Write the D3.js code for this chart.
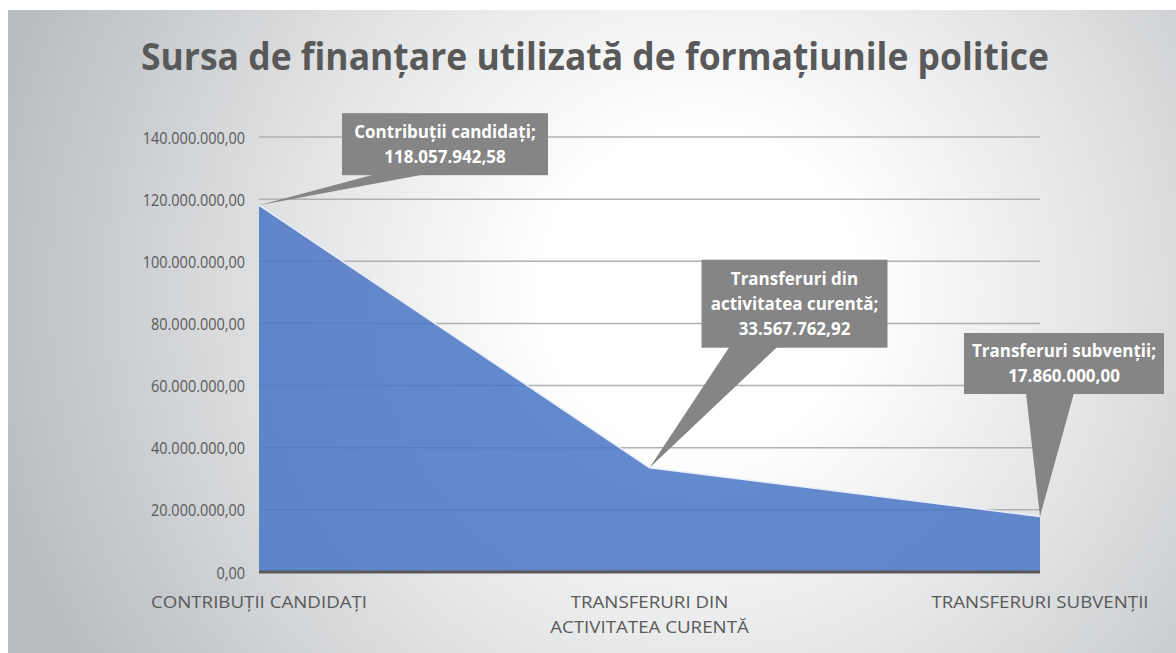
<!DOCTYPE html>
<html>
<head>
<meta charset="utf-8">
<script src="https://cdn.jsdelivr.net/npm/d3@7"></script>
<style>
  body { margin: 0; background: #fff; }
  text { font-family: 'Open Sans', sans-serif; }
</style>
</head>
<body>
<svg id="chart" width="1176" height="653"></svg>
<script>
const categories = ['CONTRIBUȚII CANDIDAȚI', 'TRANSFERURI DIN ACTIVITATEA CURENTĂ', 'TRANSFERURI SUBVENȚII'];
const categoryLines = [['CONTRIBUȚII CANDIDAȚI'], ['TRANSFERURI DIN', 'ACTIVITATEA CURENTĂ'], ['TRANSFERURI SUBVENȚII']];
const values = [118057942.58, 33567762.92, 17860000.00];
const calloutNames = [['Contribuții candidați;'], ['Transferuri din', 'activitatea curentă;'], ['Transferuri subvenții;']];
const yTicks = [0, 20000000, 40000000, 60000000, 80000000, 100000000, 120000000, 140000000];
const title = 'Sursa de finanțare utilizată de formațiunile politice';

const ro = d3.formatLocale({ decimal: ',', thousands: '.', grouping: [3], currency: ['', ' lei'] });
const fmt = ro.format(',.2f');

// squeeze/stretch text horizontally to mimic the Calibri look
const fit = (sel, k) => sel.each(function () {
  const w = this.getComputedTextLength();
  d3.select(this).attr('textLength', w * k).attr('lengthAdjust', 'spacingAndGlyphs');
});

const svg = d3.select('#chart');
const defs = svg.append('defs');

const bg = defs.append('radialGradient')
  .attr('id', 'bg')
  .attr('gradientUnits', 'userSpaceOnUse')
  .attr('cx', 700).attr('cy', 290).attr('r', 720);
bg.append('stop').attr('offset', '0%').attr('stop-color', '#ffffff');
bg.append('stop').attr('offset', '22%').attr('stop-color', '#ffffff');
bg.append('stop').attr('offset', '55%').attr('stop-color', '#e4e5e6');
bg.append('stop').attr('offset', '100%').attr('stop-color', '#b9bdc1');

svg.append('rect')
  .attr('x', 8).attr('y', 10)
  .attr('width', 1168).attr('height', 643)
  .attr('fill', 'url(#bg)');

const x = d3.scalePoint().domain(categories).range([259, 1040]);
const y = d3.scaleLinear().domain([0, 140000000]).range([572, 137]);

// gridlines
svg.append('g')
  .selectAll('line')
  .data(yTicks.slice(1))
  .join('line')
    .attr('x1', x.range()[0]).attr('x2', x.range()[1])
    .attr('y1', d => y(d)).attr('y2', d => y(d))
    .attr('stroke', '#b0b0b0')
    .attr('stroke-width', 1.5);

// y labels
const yAxis = d3.axisLeft(y).tickValues(yTicks).tickFormat(fmt).tickSize(0).tickPadding(14);
svg.append('g')
  .attr('transform', `translate(${x.range()[0]},0)`)
  .call(yAxis)
  .call(g => g.select('.domain').remove())
  .call(g => g.selectAll('text')
    .attr('fill', '#595959')
    .attr('dy', '0.36em')
    .style('font-family', "'Open Sans', sans-serif")
    .style('font-size', '17px')
    .call(fit, 0.85));

// area
const data = categories.map((c, i) => ({ c, v: values[i] }));
const area = d3.area()
  .x(d => x(d.c))
  .y0(y(0))
  .y1(d => y(d.v));
const line = d3.line().x(d => x(d.c)).y(d => y(d.v));

svg.append('path')
  .attr('d', area(data))
  .attr('fill', '#4a74c4')
  .attr('fill-opacity', 0.85);

svg.append('path')
  .attr('d', line(data))
  .attr('fill', 'none')
  .attr('stroke', '#e8eefa')
  .attr('stroke-width', 1.5);

// baseline
svg.append('line')
  .attr('x1', x.range()[0]).attr('x2', x.range()[1])
  .attr('y1', y(0)).attr('y2', y(0))
  .attr('stroke', '#5a5a5a')
  .attr('stroke-width', 3);

// category labels
const xl = svg.append('g')
  .selectAll('text')
  .data(categories)
  .join('text')
    .attr('x', d => x(d))
    .attr('y', 608)
    .attr('text-anchor', 'middle')
    .attr('fill', '#595959')
    .style('font-size', '17px');
xl.each(function (d, i) {
  d3.select(this).selectAll('tspan')
    .data(categoryLines[i])
    .join('tspan')
      .attr('x', x(d))
      .attr('y', (t, j) => 608 + j * 25)
      .text(t => t)
      .call(fit, 1.1);
});

// callouts: box offsets from the data point
const callouts = [
  { dx: 186, dy: -61, w: 206, h: 62, tip: [-70, -20] },
  { dx: 145, dy: -164, w: 186, h: 88, tip: [-65, -17] },
  { dx: 24, dy: -153, w: 200, h: 61, tip: [-38, 10] }
];

const cg = svg.append('g');
data.forEach((d, i) => {
  const px = x(d.c), py = y(d.v);
  const c = callouts[i];
  const cx = px + c.dx, cy = py + c.dy;
  const bx = cx - c.w / 2, by = cy - c.h / 2;
  const bottom = by + c.h;
  cg.append('path')
    .attr('d', `M${cx + c.tip[0]},${bottom - 1} L${px},${py} L${cx + c.tip[1]},${bottom - 1}Z`)
    .attr('fill', '#858585');
  cg.append('rect')
    .attr('x', bx).attr('y', by)
    .attr('width', c.w).attr('height', c.h)
    .attr('fill', '#858585');
  const lines = calloutNames[i].concat([fmt(d.v)]);
  const t = cg.append('text')
    .attr('text-anchor', 'middle')
    .attr('fill', '#ffffff')
    .style('font-weight', 700)
    .style('font-size', '17px');
  t.selectAll('tspan')
    .data(lines)
    .join('tspan')
      .attr('x', cx)
      .attr('y', (s, j) => cy - (lines.length - 1) * 12.5 + j * 25 + 6)
      .text(s => s)
      .call(fit, 1.0);
});

// title
svg.append('text')
  .attr('x', 595)
  .attr('y', 70)
  .attr('text-anchor', 'middle')
  .attr('fill', '#595959')
  .attr('textLength', 908)
  .attr('lengthAdjust', 'spacingAndGlyphs')
  .style('font-weight', 700)
  .style('font-size', '37px')
  .text(title);
</script>
</body>
</html>
